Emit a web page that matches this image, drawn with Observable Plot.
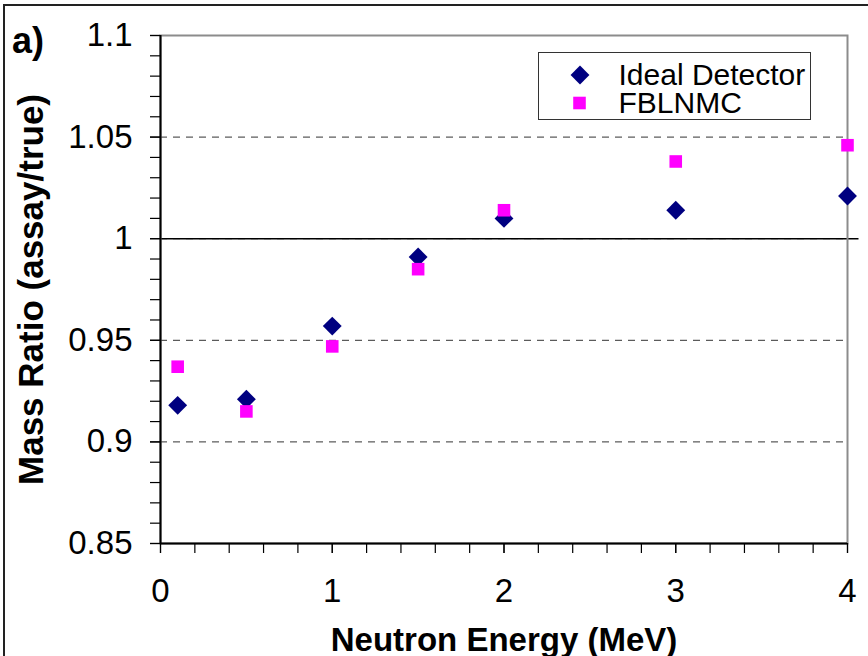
<!DOCTYPE html>
<html>
<head>
<meta charset="utf-8">
<script src="https://cdn.jsdelivr.net/npm/d3@7"></script>
<script src="https://cdn.jsdelivr.net/npm/@observablehq/plot@0.6"></script>
<style>
  body { margin: 0; background: #fff; }
  #wrap { position: relative; width: 868px; height: 656px; overflow: hidden; background: #fff; }
  #overlay { position: absolute; left: 0; top: 0; pointer-events: none; }
  #chart svg [aria-label="x-axis label"] text,
  #chart svg [aria-label="y-axis label"] text { font-weight: bold; }
  #chart svg [aria-label="x-axis label"] { font-size: 33px; }
  #chart svg [aria-label="y-axis label"] { font-size: 35px; }
</style>
</head>
<body>
<div id="wrap">
  <div id="chart"></div>
</div>
<script>
// Neutron energies (MeV) at which the assays were made
const energies = [0.1, 0.5, 1, 1.5, 2, 3, 4];
// Mass ratio (assay / true) for each detector model
const idealDetector = [0.918, 0.921, 0.957, 0.991, 1.010, 1.014, 1.021];
const fblnmc = [0.937, 0.915, 0.947, 0.985, 1.014, 1.038, 1.046];

const seriesNames = ["Ideal Detector", "FBLNMC"];
const seriesColors = ["#000080", "#ff00ff"];

// Axis ticks
const xTickLabels = [0, 1, 2, 3, 4];
const xMinorTicks = d3.ticks(0, 4, 20);          // every 0.2 MeV
const yTickLabels = [0.85, 0.9, 0.95, 1, 1.05, 1.1];
const yMinorTicks = d3.ticks(0.85, 1.1, 25);     // every 0.01
const yGridLines = [0.9, 0.95, 1, 1.05];
const unityLineEnd = 4.067;                      // the unity line runs a bit past the last tick

const font = '"Liberation Sans", Arial, sans-serif';
const plain = d => String(d);

const chart = Plot.plot({
  width: 868,
  height: 656,
  marginLeft: 160,
  marginRight: 21,
  marginTop: 35,
  marginBottom: 113,
  style: { fontFamily: font, fontSize: "33px", color: "#000", background: "transparent", overflow: "visible" },
  x: { domain: [0, 4] },
  y: { domain: [0.85, 1.1] },
  marks: [
    Plot.gridY(yGridLines, { stroke: "#333", strokeOpacity: 1, strokeWidth: 1, strokeDasharray: "7,6" }),
    Plot.ruleY([1], { x1: 0, x2: unityLineEnd, stroke: "#000", strokeWidth: 1.5 }),
    Plot.frame({ stroke: "#8c8c8c", strokeWidth: 2 }),
    Plot.ruleX([0], { stroke: "#000", strokeWidth: 2 }),
    Plot.ruleY([0.85], { stroke: "#000", strokeWidth: 2 }),
    // minor ticks
    Plot.axisX(xMinorTicks, { tickSize: 10, tickFormat: () => "", stroke: "#000", strokeWidth: 1.2, label: null }),
    Plot.axisY(yMinorTicks, { tickSize: 10, tickFormat: () => "", stroke: "#000", strokeWidth: 1.2, label: null }),
    // labelled ticks and axis titles
    Plot.axisX(xTickLabels, {
      tickSize: 10, tickPadding: 25, fontSize: 33, stroke: "#000", strokeWidth: 1.2, tickFormat: plain,
      label: "Neutron Energy (MeV)", labelAnchor: "center", labelOffset: 107, labelArrow: false
    }),
    Plot.axisY(yTickLabels, {
      tickSize: 10, tickPadding: 18, fontSize: 33, stroke: "#000", strokeWidth: 1.2, tickFormat: plain,
      label: "Mass Ratio (assay/true)", labelAnchor: "center", labelOffset: 142, labelArrow: false
    }),
    // data
    Plot.dot(energies, { x: d => d, y: (d, i) => idealDetector[i], symbol: "diamond2", r: 8.5, fill: seriesColors[0], stroke: "none" }),
    Plot.dot(energies, { x: d => d, y: (d, i) => fblnmc[i], symbol: "square", r: 7.1, fill: seriesColors[1], stroke: "none" })
  ]
});
document.getElementById("chart").appendChild(chart);

// Page frame, panel tag and legend drawn on top of the plot
const overlay = d3.select("#wrap").append("svg")
  .attr("id", "overlay")
  .attr("width", 868).attr("height", 656)
  .style("font-family", font);

overlay.append("path")
  .attr("d", "M4,656V5H868")
  .attr("fill", "none").attr("stroke", "#222").attr("stroke-width", 2);

overlay.append("text")
  .attr("x", 12).attr("y", 53)
  .attr("font-size", 36).attr("font-weight", "bold")
  .text("a)");

const legend = overlay.append("g").attr("transform", "translate(538.5,52.5)");
legend.append("rect")
  .attr("width", 272).attr("height", 67)
  .attr("fill", "#fff").attr("stroke", "#333").attr("stroke-width", 1);

const legendSymbols = [d3.symbolDiamond2, d3.symbolSquare];
const legendSizes = [Math.PI * 8.5 * 8.5, Math.PI * 7.1 * 7.1];
seriesNames.forEach((name, i) => {
  const row = legend.append("g").attr("transform", `translate(0,${i * 28})`);
  row.append("path")
    .attr("transform", `translate(${41.5 - i * 0.5},22.5)`)
    .attr("d", d3.symbol(legendSymbols[i], legendSizes[i])())
    .attr("fill", seriesColors[i]);
  row.append("text")
    .attr("x", 80).attr("y", 32)
    .attr("font-size", 30)
    .text(name);
});
</script>
</body>
</html>
